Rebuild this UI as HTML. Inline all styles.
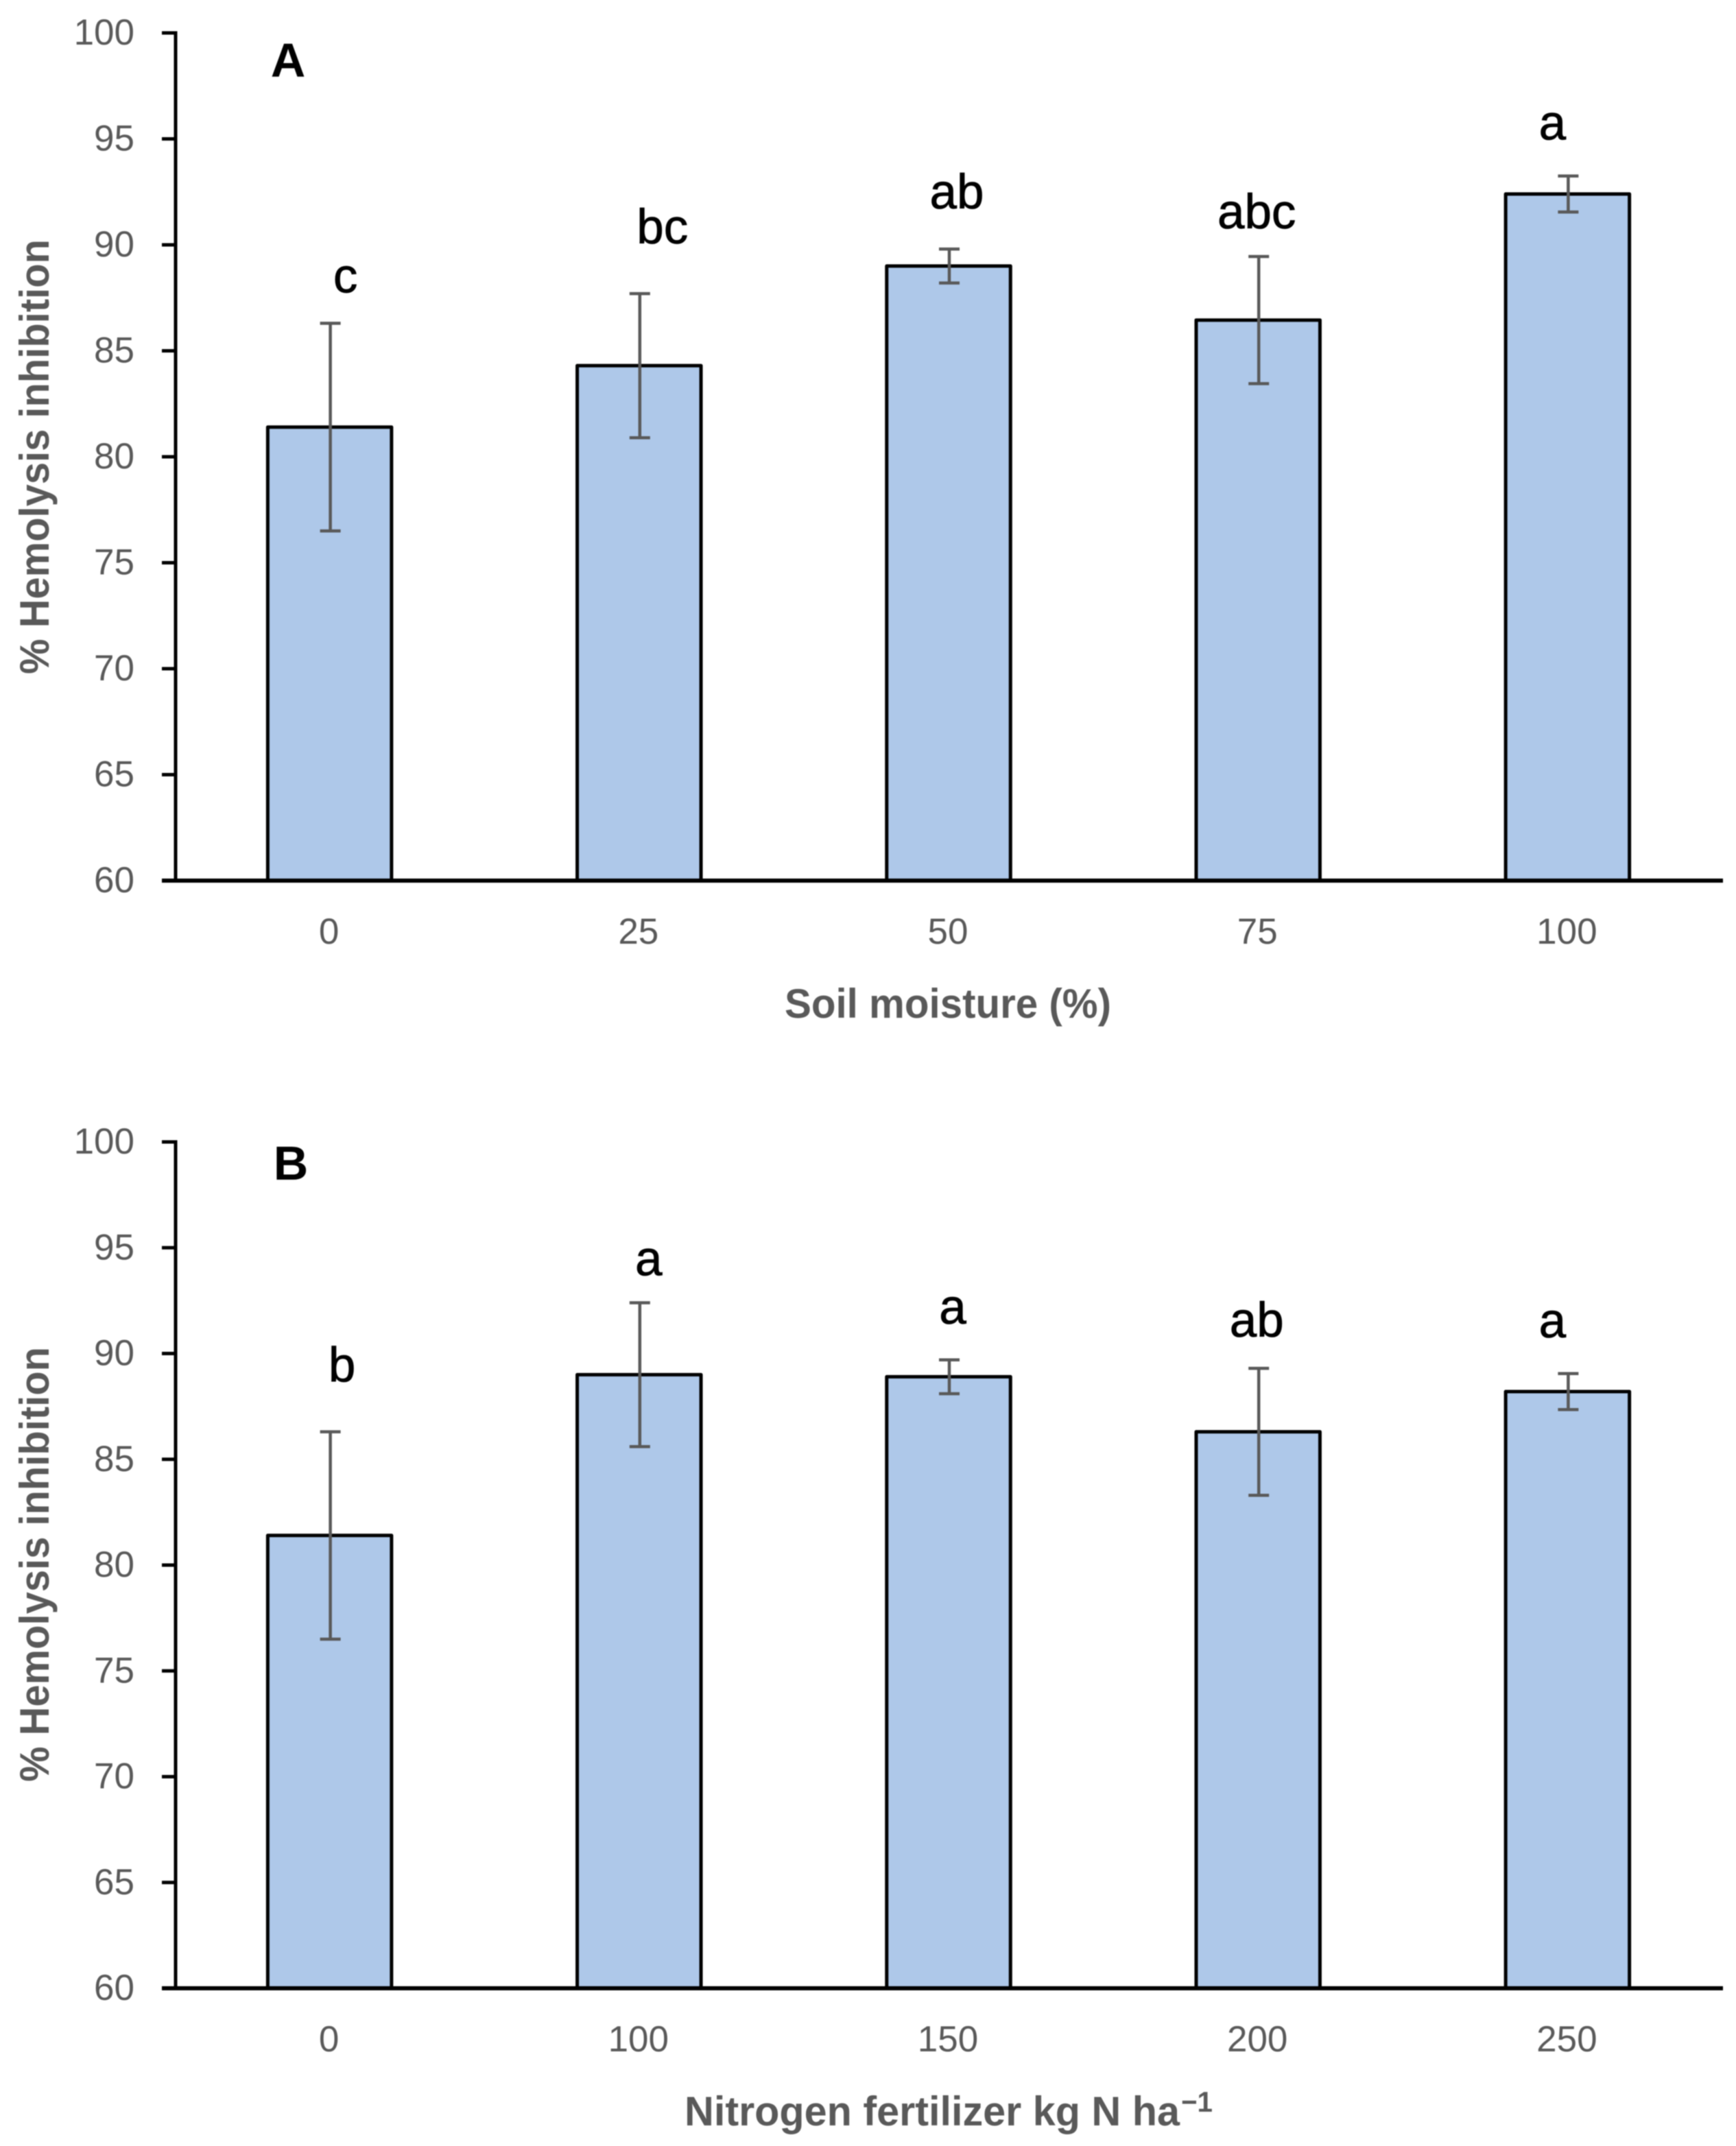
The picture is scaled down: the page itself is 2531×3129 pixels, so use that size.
<!DOCTYPE html>
<html lang="en">
<head>
<meta charset="utf-8">
<title>Hemolysis inhibition bar charts</title>
<style>
html,body{margin:0;padding:0;background:#fff;}
body{width:2531px;height:3129px;overflow:hidden;}
svg{display:block;filter:blur(0.9px);}
text{font-family:"Liberation Sans",sans-serif;}
</style>
</head>
<body>
<svg id="figure" xmlns="http://www.w3.org/2000/svg" width="2531" height="3129" viewBox="0 0 2531 3129"></svg>
<script>
const yTickLabels = [60, 65, 70, 75, 80, 85, 90, 95, 100];

const categoriesA = ["0", "25", "50", "75", "100"];
const valuesA = [81.4, 84.3, 89.0, 86.45, 92.4];
const errorsA = [4.9, 3.4, 0.8, 3.0, 0.85];
const lettersA = ["c", "bc", "ab", "abc", "a"];

const categoriesB = ["0", "100", "150", "200", "250"];
const valuesB = [81.4, 89.0, 88.9, 86.3, 88.2];
const errorsB = [4.9, 3.4, 0.8, 3.0, 0.85];
const lettersB = ["b", "a", "a", "ab", "a"];

const NS = "http://www.w3.org/2000/svg";
const svg = document.getElementById("figure");

function make(parent, tag, attrs, content) {
  const el = document.createElementNS(NS, tag);
  for (const k in attrs) el.setAttribute(k, attrs[k]);
  if (content !== undefined) el.textContent = content;
  parent.appendChild(el);
  return el;
}

function drawPanel(p) {
  const g = make(svg, "g", {});
  
  

  const y = v => p.yBottom - (v - 60) * (p.yBottom - p.yTop) / 40;
  const band = (p.xRight - p.xLeft) / p.categories.length;
  const x = i => p.xLeft + band * (i + 0.5);
  const barW = band * 0.4;

  // bars
  p.values.forEach((v, i) => {
    const bar = make(g, "rect", {
      x: x(i) - barW / 2 - 1, y: y(v), width: barW, height: y(60) - y(v),
      fill: "#aec8e9", stroke: "#000", "stroke-width": 5, "stroke-linejoin": "round"
    });
    
    
  });

  // error bars
  p.errors.forEach((e, i) => {
    const cx = x(i);
    const top = y(p.values[i] + e), bot = y(p.values[i] - e);
    const eb = make(g, "path", {
      d: `M${cx},${top}V${bot}M${cx - 15},${top}H${cx + 15}M${cx - 15},${bot}H${cx + 15}`,
      fill: "none", stroke: "#595959", "stroke-width": 4.5
    });
    
    
  });

  // y axis
  const yAxis = make(g, "line", {
    x1: p.xLeft, x2: p.xLeft, y1: y(100) - 2.5, y2: y(60), stroke: "#000", "stroke-width": 5
  });
  
  

  yTickLabels.forEach(t => {
    const tick = make(g, "line", {
      x1: p.xLeft - 20, x2: p.xLeft, y1: y(t), y2: y(t), stroke: "#000", "stroke-width": 5
    });
    
    
    const lab = make(g, "text", {
      x: 196, y: y(t) + 17, "text-anchor": "end", "font-size": 53, fill: "#595959"
    }, String(t));
    
    
  });

  // x axis
  const xAxis = make(g, "line", {
    x1: p.xLeft - 20, x2: p.xRight, y1: y(60), y2: y(60), stroke: "#000", "stroke-width": 6
  });
  
  

  p.categories.forEach((c, i) => {
    const lab = make(g, "text", {
      x: x(i) - 2, y: y(60) + 92, "text-anchor": "middle", "font-size": 53, fill: "#595959"
    }, c);
    
    
  });

  // significance letters
  p.letters.forEach((l, i) => {
    const lab = make(g, "text", {
      x: x(i) + p.letterDx[i], y: y(p.values[i] + p.errors[i]) - p.letterGap[i],
      "text-anchor": "middle", "font-size": 71, fill: "#000", stroke: "#000", "stroke-width": 0.8
    }, l);
    
    
  });

  // panel letter
  const panelLetter = make(g, "text", {
    x: p.tagX, y: p.tagY, "text-anchor": "middle", "font-size": 70, "font-weight": "bold", fill: "#000"
  }, p.tag);
  
  

  // y axis title
  const cy = y(60) - 618;
  const yTitle = make(g, "text", {
    transform: `translate(71,${cy}) rotate(-90)`, "text-anchor": "middle",
    "font-size": 60, "font-weight": "bold", fill: "#595959",
    textLength: 634, lengthAdjust: "spacingAndGlyphs"
  }, "% Hemolysis inhibition");
  
  

  // x axis title
  const xTitle = make(g, "text", {
    x: p.xTitleX, y: y(60) + 200, "font-size": 60, "font-weight": "bold", fill: "#595959",
    textLength: p.xTitleW, lengthAdjust: "spacingAndGlyphs"
  }, p.xTitle);
  
  

  if (p.xTitleSup) {
    const sup = make(g, "text", {
      x: p.xTitleX + p.xTitleW + 2, y: y(60) + 180, "font-size": 42, "font-weight": "bold", fill: "#595959",
      textLength: 46, lengthAdjust: "spacingAndGlyphs"
    }, p.xTitleSup);
    
    
  }
}

drawPanel({
  name: "panel-a-chart", tag: "A", tagX: 420, tagY: 112,
  xLeft: 256, xRight: 2512, yTop: 48, yBottom: 1284,
  categories: categoriesA, values: valuesA, errors: errorsA, letters: lettersA,
  letterDx: [22, 33, 11, -3, -23], letterGap: [45, 73, 59, 41, 53],
  xTitle: "Soil moisture (%)", xTitleX: 1144, xTitleW: 476
});

drawPanel({
  name: "panel-b-chart", tag: "B", tagX: 424, tagY: 1720,
  xLeft: 256, xRight: 2512, yTop: 1665, yBottom: 2899,
  categories: categoriesB, values: valuesB, errors: errorsB, letters: lettersB,
  letterDx: [17, 13, 5, -3, -23], letterGap: [73, 40, 53, 46, 53],
  xTitle: "Nitrogen fertilizer kg N ha", xTitleX: 998, xTitleW: 722, xTitleSup: "\u22121"
});
</script>
</body>
</html>
